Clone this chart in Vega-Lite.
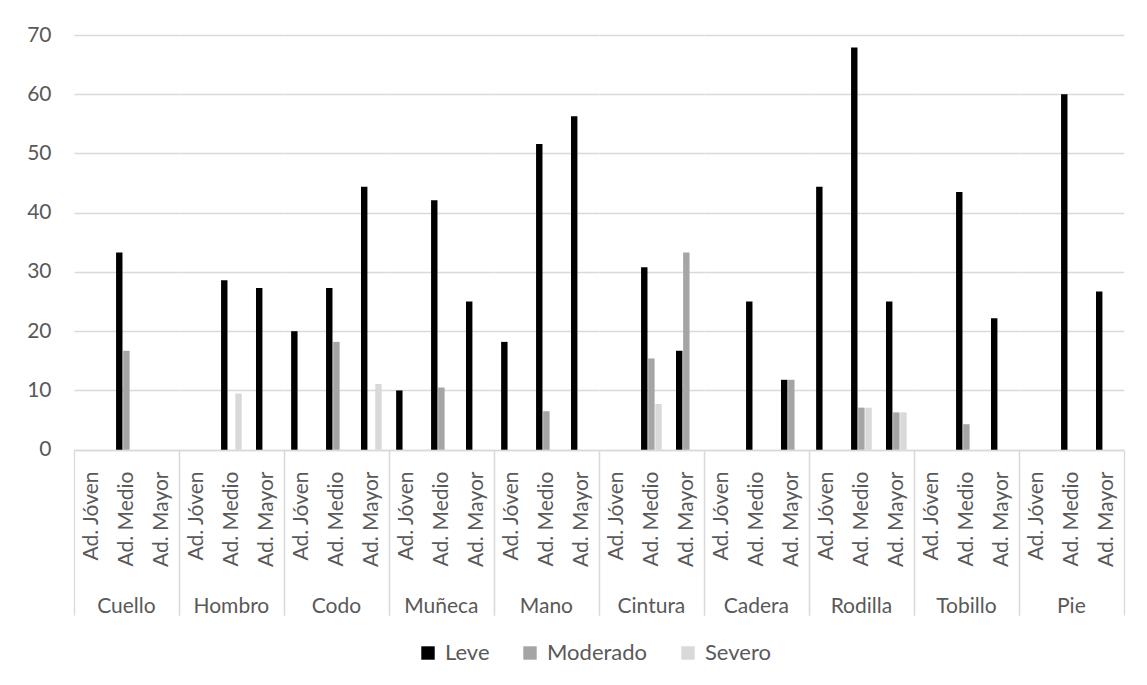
{
  "$schema": "https://vega.github.io/schema/vega-lite/v6.json",
  "background": "white",
  "padding": {"left": 26, "top": 24, "right": 5, "bottom": 5},
  "data": {"values": [
    {"parte": "Cuello", "edad": "Ad. Medio", "nivel": "Leve", "valor": 33.3},
    {"parte": "Cuello", "edad": "Ad. Medio", "nivel": "Moderado", "valor": 16.7},
    {"parte": "Hombro", "edad": "Ad. Medio", "nivel": "Leve", "valor": 28.6},
    {"parte": "Hombro", "edad": "Ad. Medio", "nivel": "Severo", "valor": 9.5},
    {"parte": "Hombro", "edad": "Ad. Mayor", "nivel": "Leve", "valor": 27.3},
    {"parte": "Codo", "edad": "Ad. Jóven", "nivel": "Leve", "valor": 20},
    {"parte": "Codo", "edad": "Ad. Medio", "nivel": "Leve", "valor": 27.3},
    {"parte": "Codo", "edad": "Ad. Medio", "nivel": "Moderado", "valor": 18.2},
    {"parte": "Codo", "edad": "Ad. Mayor", "nivel": "Leve", "valor": 44.4},
    {"parte": "Codo", "edad": "Ad. Mayor", "nivel": "Severo", "valor": 11.1},
    {"parte": "Muñeca", "edad": "Ad. Jóven", "nivel": "Leve", "valor": 10},
    {"parte": "Muñeca", "edad": "Ad. Medio", "nivel": "Leve", "valor": 42.1},
    {"parte": "Muñeca", "edad": "Ad. Medio", "nivel": "Moderado", "valor": 10.5},
    {"parte": "Muñeca", "edad": "Ad. Mayor", "nivel": "Leve", "valor": 25},
    {"parte": "Mano", "edad": "Ad. Jóven", "nivel": "Leve", "valor": 18.2},
    {"parte": "Mano", "edad": "Ad. Medio", "nivel": "Leve", "valor": 51.6},
    {"parte": "Mano", "edad": "Ad. Medio", "nivel": "Moderado", "valor": 6.5},
    {"parte": "Mano", "edad": "Ad. Mayor", "nivel": "Leve", "valor": 56.3},
    {"parte": "Cintura", "edad": "Ad. Medio", "nivel": "Leve", "valor": 30.8},
    {"parte": "Cintura", "edad": "Ad. Medio", "nivel": "Moderado", "valor": 15.4},
    {"parte": "Cintura", "edad": "Ad. Medio", "nivel": "Severo", "valor": 7.7},
    {"parte": "Cintura", "edad": "Ad. Mayor", "nivel": "Leve", "valor": 16.7},
    {"parte": "Cintura", "edad": "Ad. Mayor", "nivel": "Moderado", "valor": 33.3},
    {"parte": "Cadera", "edad": "Ad. Medio", "nivel": "Leve", "valor": 25},
    {"parte": "Cadera", "edad": "Ad. Mayor", "nivel": "Leve", "valor": 11.8},
    {"parte": "Cadera", "edad": "Ad. Mayor", "nivel": "Moderado", "valor": 11.8},
    {"parte": "Rodilla", "edad": "Ad. Jóven", "nivel": "Leve", "valor": 44.4},
    {"parte": "Rodilla", "edad": "Ad. Medio", "nivel": "Leve", "valor": 67.9},
    {"parte": "Rodilla", "edad": "Ad. Medio", "nivel": "Moderado", "valor": 7.1},
    {"parte": "Rodilla", "edad": "Ad. Medio", "nivel": "Severo", "valor": 7.1},
    {"parte": "Rodilla", "edad": "Ad. Mayor", "nivel": "Leve", "valor": 25},
    {"parte": "Rodilla", "edad": "Ad. Mayor", "nivel": "Moderado", "valor": 6.3},
    {"parte": "Rodilla", "edad": "Ad. Mayor", "nivel": "Severo", "valor": 6.3},
    {"parte": "Tobillo", "edad": "Ad. Medio", "nivel": "Leve", "valor": 43.5},
    {"parte": "Tobillo", "edad": "Ad. Medio", "nivel": "Moderado", "valor": 4.3},
    {"parte": "Tobillo", "edad": "Ad. Mayor", "nivel": "Leve", "valor": 22.2},
    {"parte": "Pie", "edad": "Ad. Medio", "nivel": "Leve", "valor": 60},
    {"parte": "Pie", "edad": "Ad. Mayor", "nivel": "Leve", "valor": 26.7}
  ]},
  "facet": {
    "column": {
      "field": "parte", "type": "nominal",
      "sort": ["Cuello", "Hombro", "Codo", "Muñeca", "Mano", "Cintura", "Cadera", "Rodilla", "Tobillo", "Pie"],
      "header": {"title": null, "labelOrient": "bottom", "labelFont": "Lato", "labelFontSize": 21, "labelColor": "#595959", "labelPadding": -20}
    }
  },
  "spacing": 0,
  "spec": {
    "width": 104.8,
    "height": 414.7,
    "mark": {"type": "bar"},
    "encoding": {
      "x": {
        "field": "edad", "type": "nominal",
        "sort": ["Ad. Jóven", "Ad. Medio", "Ad. Mayor"],
        "scale": {"domain": ["Ad. Jóven", "Ad. Medio", "Ad. Mayor"], "paddingInner": 0, "paddingOuter": 0},
        "axis": {
          "title": null, "labelAngle": 270, "labelFont": "Lato", "labelFontSize": 21, "labelColor": "#595959",
          "domainColor": "#d9d9d9", "domainWidth": 1.3,
          "tickBand": "extent", "tickSize": 165, "tickWidth": 1.3,
          "tickColor": {"condition": {"test": "datum.value === 'Ad. Jóven' || datum.value === 'Ad. Medio'", "value": "transparent"}, "value": "#d9d9d9"},
          "labelPadding": -144
        }
      },
      "xOffset": {
        "field": "nivel", "type": "nominal",
        "scale": {"domain": ["Leve", "Moderado", "Severo"], "paddingOuter": 1, "paddingInner": 0.1}
      },
      "y": {
        "field": "valor", "type": "quantitative",
        "scale": {"domain": [0, 70], "nice": false},
        "axis": {
          "title": null, "values": [0, 10, 20, 30, 40, 50, 60, 70],
          "domain": false, "ticks": false, "tickSize": 0, "labelPadding": 23,
          "labelFont": "Lato", "labelFontSize": 21, "labelColor": "#595959",
          "grid": true, "gridColor": "#d9d9d9", "gridWidth": 1.3
        }
      },
      "color": {
        "field": "nivel", "type": "nominal",
        "scale": {"domain": ["Leve", "Moderado", "Severo"], "range": ["#000000", "#a5a5a5", "#d9d9d9"]},
        "legend": {
          "title": null, "orient": "none", "legendX": 343, "legendY": 607, "direction": "horizontal",
          "symbolType": "square", "symbolSize": 180, "symbolStrokeWidth": 0,
          "labelFont": "Lato", "labelFontSize": 22, "labelColor": "#595959",
          "labelOffset": 6, "columnPadding": 29
        }
      }
    }
  },
  "config": {"view": {"stroke": null}}
}
